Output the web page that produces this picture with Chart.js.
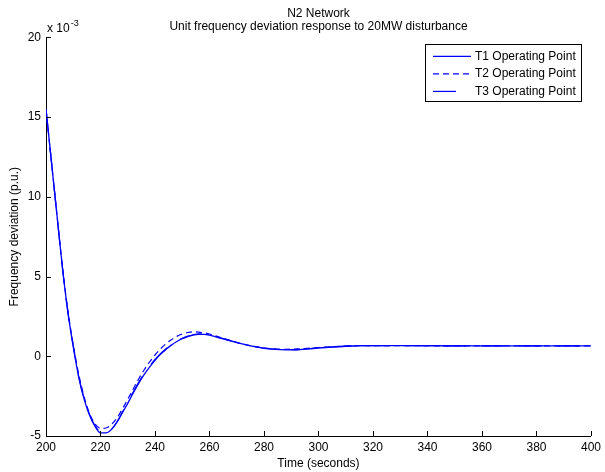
<!DOCTYPE html>
<html lang="en">
    <head>
        <meta charset="UTF-8" />
        <title>N2 Network</title>
        <script src="https://cdn.jsdelivr.net/npm/chart.js"></script>
        <style>
            body { margin: 0; background: #fff; }
        </style>
    </head>
    <body>
        <canvas id="chart" width="605" height="472"></canvas>
        <script>
            // time axis (seconds) shared by all three runs
            const timeS = [200, 202, 204, 206, 208, 210, 212, 214, 216, 218, 220, 222, 224, 226, 228, 230, 232, 234, 236, 238,
                240, 242, 244, 246, 248, 250, 252, 254, 256, 258, 260, 264, 268, 272, 276, 280, 284, 288, 292, 296,
                300, 305, 310, 315, 320, 330, 340, 360, 380, 400];
            // frequency deviation in units of 1e-3 p.u.
            const t1Dev = [15.5, 12.2, 8.9, 5.6, 2.8, 0.6, -1.3, -2.7, -3.7, -4.4, -4.8, -4.8, -4.6, -4.15, -3.55, -2.95, -2.3, -1.7, -1.15, -0.68,
                -0.25, 0.12, 0.42, 0.7, 0.93, 1.1, 1.24, 1.33, 1.38, 1.38, 1.33, 1.14, 0.95, 0.78, 0.62, 0.5, 0.43, 0.4, 0.41, 0.46,
                0.52, 0.58, 0.63, 0.66, 0.67, 0.67, 0.66, 0.65, 0.65, 0.65];
            const t2Dev = [15.5, 12.2, 8.9, 5.65, 2.9, 0.72, -1.12, -2.55, -3.6, -4.25, -4.52, -4.5, -4.28, -3.88, -3.32, -2.7, -2.05, -1.42, -0.86, -0.36,
                0.08, 0.46, 0.78, 1.04, 1.25, 1.4, 1.49, 1.53, 1.52, 1.47, 1.4, 1.18, 0.97, 0.78, 0.63, 0.52, 0.46, 0.44, 0.46, 0.5,
                0.55, 0.6, 0.64, 0.66, 0.67, 0.67, 0.66, 0.65, 0.65, 0.65];
            const t3Dev = [15.5, 12.2, 8.9, 5.6, 2.82, 0.63, -1.26, -2.65, -3.66, -4.36, -4.74, -4.76, -4.57, -4.12, -3.52, -2.9, -2.25, -1.64, -1.09, -0.62,
                -0.2, 0.17, 0.47, 0.74, 0.96, 1.13, 1.26, 1.35, 1.4, 1.4, 1.35, 1.16, 0.96, 0.79, 0.63, 0.51, 0.44, 0.41, 0.42, 0.47,
                0.53, 0.59, 0.64, 0.66, 0.67, 0.67, 0.66, 0.65, 0.65, 0.65];
            const seriesNames = ["T1 Operating Point", "T2 Operating Point", "T3 Operating Point"];
            const xTickVals = [200, 220, 240, 260, 280, 300, 320, 340, 360, 380, 400];
            const yTickVals = [-5, 0, 5, 10, 15, 20];

            const FONT = "'Liberation Sans', Arial, Helvetica, sans-serif";
            const BLUE = "#0000ff";

            function pts(vals) {
                return timeS.map((t, i) => ({ x: t, y: vals[i] }));
            }

            // matlab style ticks pointing into the plot
            const inwardTicks = {
                id: "inwardTicks",
                afterDraw(chart) {
                    const { ctx, chartArea, scales } = chart;
                    ctx.save();
                    ctx.strokeStyle = "#000";
                    ctx.lineWidth = 1;
                    ctx.beginPath();
                    scales.x.ticks.forEach((t) => {
                        const px = Math.round(scales.x.getPixelForValue(t.value)) + 0.5;
                        ctx.moveTo(px, chartArea.bottom);
                        ctx.lineTo(px, chartArea.bottom - 5);
                    });
                    scales.y.ticks.forEach((t) => {
                        const py = Math.round(scales.y.getPixelForValue(t.value)) + 0.5;
                        ctx.moveTo(chartArea.left, py);
                        ctx.lineTo(chartArea.left + 5, py);
                    });
                    ctx.stroke();

                    // exponent note above the y axis
                    ctx.fillStyle = "#000";
                    ctx.textBaseline = "alphabetic";
                    ctx.textAlign = "left";
                    ctx.font = "12px " + FONT;
                    ctx.fillText("x 10", chartArea.left + 1, chartArea.top - 5);
                    const w = ctx.measureText("x 10").width;
                    ctx.font = "9px " + FONT;
                    ctx.fillText("-3", chartArea.left + 1 + w + 1, chartArea.top - 11);
                    ctx.restore();
                },
            };

            // boxed legend inside the top right corner
            const boxLegend = {
                id: "boxLegend",
                afterDraw(chart) {
                    const { ctx, chartArea } = chart;
                    const bw = 156, bh = 57;
                    const bx = chartArea.right - 10 - bw;
                    const by = chartArea.top + 7;
                    ctx.save();
                    ctx.fillStyle = "#fff";
                    ctx.fillRect(bx, by, bw, bh);
                    ctx.strokeStyle = "#000";
                    ctx.lineWidth = 1;
                    ctx.strokeRect(Math.round(bx) + 0.5, Math.round(by) + 0.5, bw, bh);
                    ctx.font = "12px " + FONT;
                    ctx.textBaseline = "middle";
                    ctx.textAlign = "left";
                    chart.data.datasets.forEach((ds, i) => {
                        const ry = by + 12 + i * 17.5;
                        ctx.strokeStyle = ds.borderColor;
                        ctx.lineWidth = 1.2;
                        ctx.setLineDash(ds.borderDash || []);
                        ctx.beginPath();
                        ctx.moveTo(bx + 8, ry);
                        ctx.lineTo(bx + 46, ry);
                        ctx.stroke();
                        ctx.setLineDash([]);
                        ctx.fillStyle = "#000";
                        ctx.fillText(ds.label, bx + 50, ry);
                    });
                    ctx.restore();
                },
            };

            const ctx = document.getElementById("chart");
            new Chart(ctx, {
                type: "line",
                data: {
                    datasets: [
                        {
                            label: seriesNames[0],
                            data: pts(t1Dev),
                            borderColor: BLUE,
                            borderWidth: 1.3,
                            pointRadius: 0,
                            cubicInterpolationMode: "monotone",
                            fill: false,
                        },
                        {
                            label: seriesNames[1],
                            data: pts(t2Dev),
                            borderColor: BLUE,
                            borderWidth: 1.2,
                            borderDash: [6, 4],
                            pointRadius: 0,
                            cubicInterpolationMode: "monotone",
                            fill: false,
                        },
                        {
                            label: seriesNames[2],
                            data: pts(t3Dev),
                            borderColor: BLUE,
                            borderWidth: 1.2,
                            borderDash: [23, 15],
                            pointRadius: 0,
                            cubicInterpolationMode: "monotone",
                            fill: false,
                        },
                    ],
                },
                options: {
                    responsive: false,
                    animation: false,
                    events: [],
                    layout: { padding: { left: 0, right: 10, top: 0, bottom: 0 } },
                    plugins: {
                        legend: { display: false },
                        tooltip: { enabled: false },
                        title: {
                            display: true,
                            fullSize: false,
                            text: ["N2 Network", "Unit frequency deviation response to 20MW disturbance"],
                            color: "#000",
                            font: { family: FONT, size: 12, weight: "normal", lineHeight: 1.1 },
                            padding: { top: 7, bottom: 4 },
                        },
                    },
                    scales: {
                        x: {
                            type: "linear",
                            min: 200,
                            max: 400,
                            afterBuildTicks(scale) {
                                scale.ticks = xTickVals.map((v) => ({ value: v }));
                            },
                            afterFit(scale) {
                                scale.height = 36;
                            },
                            grid: { display: false, drawTicks: false, tickLength: 0 },
                            border: { display: true, color: "#000", width: 1 },
                            ticks: {
                                color: "#000",
                                padding: 4,
                                maxRotation: 0,
                                autoSkip: false,
                                font: { family: FONT, size: 12 },
                            },
                            title: {
                                display: true,
                                text: "Time (seconds)",
                                color: "#000",
                                font: { family: FONT, size: 12 },
                                padding: { top: 0, bottom: 1 },
                            },
                        },
                        y: {
                            type: "linear",
                            min: -5,
                            max: 20,
                            afterBuildTicks(scale) {
                                scale.ticks = yTickVals.map((v) => ({ value: v }));
                            },
                            afterFit(scale) {
                                scale.width = 46;
                            },
                            grid: { display: false, drawTicks: false, tickLength: 0 },
                            border: { display: true, color: "#000", width: 1 },
                            ticks: {
                                color: "#000",
                                padding: 5,
                                autoSkip: false,
                                font: { family: FONT, size: 12 },
                            },
                            title: {
                                display: true,
                                text: "Frequency deviation (p.u.)",
                                color: "#000",
                                font: { family: FONT, size: 12 },
                                padding: { top: 7, bottom: 0 },
                            },
                        },
                    },
                },
                plugins: [inwardTicks, boxLegend],
            });
        </script>
    </body>
</html>
